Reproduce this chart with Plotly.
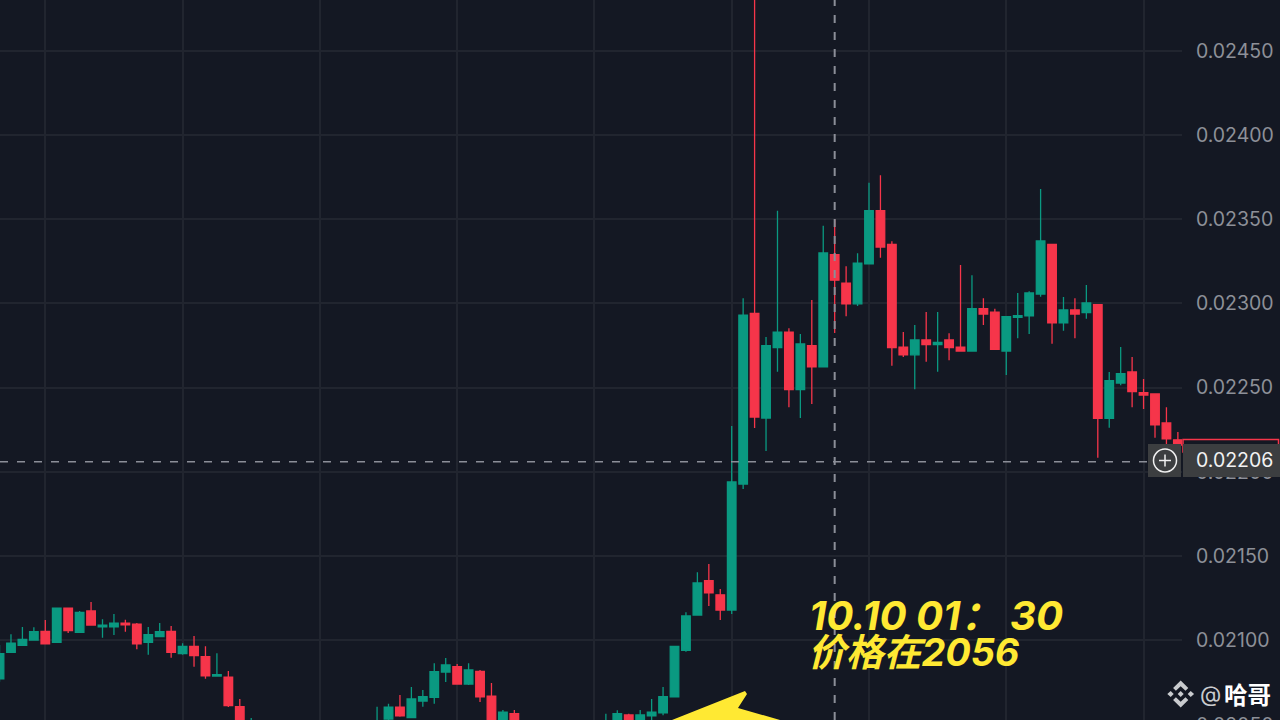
# Candlestick chart with crosshair, price tag and yellow note

import plotly.graph_objects as go

# Data

candle_index = list(range(0, 23)) + list(range(33, 46)) + list(range(53, 104))

opens = [0.020769, 0.020927, 0.020969, 0.021000, 0.021052, 0.020987, 0.021190, 0.021046, 0.021173, 0.021079,
         0.021079, 0.021101, 0.021094, 0.020987, 0.021020, 0.021052, 0.020919, 0.020963, 0.020901, 0.020786,
         0.020779, 0.020604, 0.020376,
         0.020376, 0.020531, 0.020602, 0.020539, 0.020638, 0.020660, 0.020810, 0.020842, 0.020739, 0.020814,
         0.020666, 0.020495, 0.020562,
         0.020466, 0.020495, 0.020555, 0.020513, 0.020549, 0.020568, 0.020662, 0.020939, 0.021149, 0.021353,
         0.021269, 0.021178, 0.021927, 0.022941, 0.022319, 0.022737, 0.022829, 0.022488, 0.022749, 0.022624,
         0.023290, 0.023120, 0.022998, 0.023236, 0.023551, 0.023351, 0.022741, 0.022695, 0.022783, 0.022755,
         0.022783, 0.022741, 0.022717, 0.022969, 0.022949, 0.022717, 0.022918, 0.022927, 0.023056, 0.023351,
         0.022884, 0.022961, 0.022945, 0.022993, 0.022318, 0.022527, 0.022593, 0.022470, 0.022462, 0.022290,
         0.022190]

closes = [0.020919, 0.020981, 0.021004, 0.021050, 0.020978, 0.021190, 0.021056, 0.021165, 0.021089, 0.021089,
          0.021101, 0.021091, 0.020978, 0.021032, 0.021050, 0.020927, 0.020963, 0.020907, 0.020788, 0.020794,
          0.020610, 0.020436, 0.020495,
          0.020501, 0.020602, 0.020549, 0.020650, 0.020663, 0.020812, 0.020852, 0.020739, 0.020822, 0.020662,
          0.020513, 0.020572, 0.020477,
          0.020507, 0.020562, 0.020495, 0.020555, 0.020572, 0.020663, 0.020963, 0.021143, 0.021339, 0.021281,
          0.021178, 0.021939, 0.022931, 0.022325, 0.022749, 0.022829, 0.022488, 0.022759, 0.022624, 0.023300,
          0.023138, 0.022998, 0.023239, 0.023551, 0.023335, 0.022737, 0.022695, 0.022783, 0.022755, 0.022769,
          0.022737, 0.022717, 0.022969, 0.022937, 0.022728, 0.022921, 0.022927, 0.023062, 0.023371, 0.022884,
          0.022961, 0.022937, 0.023003, 0.022318, 0.022541, 0.022583, 0.022476, 0.022456, 0.022278, 0.022196,
          0.022159]

highs = [0.020971, 0.021034, 0.021078, 0.021076, 0.021119, 0.021190, 0.021190, 0.021173, 0.021226, 0.021123,
         0.021155, 0.021121, 0.021101, 0.021078, 0.021101, 0.021083, 0.020981, 0.021024, 0.020963, 0.020921,
         0.020816, 0.020650, 0.020537,
         0.020604, 0.020622, 0.020673, 0.020721, 0.020703, 0.020862, 0.020893, 0.020858, 0.020862, 0.020822,
         0.020745, 0.020584, 0.020584,
         0.020562, 0.020583, 0.020562, 0.020584, 0.020650, 0.020721, 0.020963, 0.021165, 0.021403, 0.021452,
         0.021303, 0.022272, 0.023031, 0.024981, 0.022801, 0.023551, 0.022852, 0.022818, 0.023020, 0.023462,
         0.023500, 0.023221, 0.023298, 0.023717, 0.023761, 0.023369, 0.022830, 0.022872, 0.022949, 0.022949,
         0.022823, 0.023228, 0.023167, 0.023031, 0.022969, 0.022921, 0.023062, 0.023072, 0.023680, 0.023351,
         0.023038, 0.023031, 0.023110, 0.022993, 0.022593, 0.022741, 0.022682, 0.022551, 0.022462, 0.022383,
         0.022236]

lows = [0.020753, 0.020927, 0.020969, 0.021000, 0.020978, 0.020987, 0.021042, 0.021046, 0.021089, 0.021014,
        0.021030, 0.021050, 0.020945, 0.020913, 0.021020, 0.020895, 0.020913, 0.020842, 0.020770, 0.020782,
        0.020602, 0.020376, 0.020347,
        0.020347, 0.020513, 0.020545, 0.020535, 0.020604, 0.020622, 0.020751, 0.020739, 0.020733, 0.020632,
        0.020477, 0.020466, 0.020436,
        0.020436, 0.020466, 0.020477, 0.020477, 0.020513, 0.020553, 0.020662, 0.020931, 0.021145, 0.021202,
        0.021119, 0.021155, 0.021897, 0.022260, 0.022123, 0.022594, 0.022383, 0.022319, 0.022403, 0.022624,
        0.022824, 0.022924, 0.022985, 0.023236, 0.023272, 0.022630, 0.022682, 0.022490, 0.022654, 0.022594,
        0.022662, 0.022713, 0.022717, 0.022872, 0.022723, 0.022575, 0.022793, 0.022818, 0.023040, 0.022761,
        0.022838, 0.022793, 0.022909, 0.022083, 0.022262, 0.022514, 0.022383, 0.022373, 0.022202, 0.022159,
        0.022141]

price_ticks = [0.0210, 0.0215, 0.0220, 0.0225, 0.0230, 0.0235, 0.0240, 0.0245]
price_labels = ["0.02100", "0.02150", "0.02200", "0.02250", "0.02300", "0.02350", "0.02400", "0.02450"]
time_ticks = [4, 16, 28, 40, 52, 64, 76, 88, 100]

crosshair_index = 73
crosshair_price = 0.02206

# Colours

BACKGROUND = "#141823"
GRID = "#21252f"
GREEN = "#0a9981"
RED = "#f6354a"
YELLOW = "#ffe933"
TAG = "#3c3e40"
LABEL = "#8d9098"
CROSSHAIR = "#8b8e98"
LOGO = "#c9cbce"

FONT = "Inter, 'Noto Sans CJK SC', sans-serif"


# Pixel position on the page to paper coordinates
def px(x, y):
    return x / 1280, 1 - y / 720


def polygon(points):
    pairs = [px(x, y) for x, y in points]
    return "M " + " L ".join(f"{x:.5f},{y:.5f}" for x, y in pairs) + " Z"


def paper_shape(points, fill, line_color=None, line_width=0):
    return dict(type="path", xref="paper", yref="paper", path=polygon(points), fillcolor=fill,
                line=dict(color=line_color or fill, width=line_width), layer="above")


def note(text, x, y, color, size, weight=400, style="normal", anchor="left"):
    paper_x, paper_y = px(x, y)
    return dict(xref="paper", yref="paper", x=paper_x, y=paper_y, text=text, showarrow=False,
                xanchor=anchor, yanchor="middle", borderpad=0,
                font=dict(family=FONT, size=size, color=color, weight=weight, style=style))


fig = go.Figure()

fig.add_trace(go.Candlestick(
    x=candle_index, open=opens, high=highs, low=lows, close=closes,
    whiskerwidth=0,
    increasing=dict(line=dict(color=GREEN, width=1.3), fillcolor=GREEN),
    decreasing=dict(line=dict(color=RED, width=1.3), fillcolor=RED),
    showlegend=False, hoverinfo="skip",
))

shapes = []

# Crosshair
shapes.append(dict(type="line", xref="x", yref="paper", x0=crosshair_index, x1=crosshair_index, y0=0, y1=1,
                   line=dict(color=CROSSHAIR, width=2, dash="8px,9px"), layer="above"))
shapes.append(dict(type="line", xref="paper", yref="y", x0=0, x1=1148 / 1280,
                   y0=crosshair_price, y1=crosshair_price,
                   line=dict(color=CROSSHAIR, width=1.5, dash="8px,9px"), layer="above"))

# Red box sitting behind the price tag
shapes.append(paper_shape([(1183, 452), (1183, 439.5), (1278.5, 439.5), (1278.5, 452)], BACKGROUND, RED, 1.5))

# Price tag and plus button
shapes.append(paper_shape([(1183, 444), (1280, 444), (1280, 477), (1183, 477)], TAG))
shapes.append(paper_shape([(1148, 444), (1181, 444), (1181, 477), (1148, 477)], TAG))
x0, y0 = px(1153.5, 449)
x1, y1 = px(1176.5, 472)
shapes.append(dict(type="circle", xref="paper", yref="paper", x0=x0, x1=x1, y0=y0, y1=y1,
                   line=dict(color="#f0f0f0", width=1.5), layer="above"))
shapes.append(paper_shape([(1159, 460.5), (1171, 460.5)], "#f0f0f0", "#f0f0f0", 1.5))
shapes.append(paper_shape([(1165, 454.5), (1165, 466.5)], "#f0f0f0", "#f0f0f0", 1.5))

# Yellow arrow, runs off the bottom of the page
shapes.append(paper_shape([(672, 720), (745, 691), (747, 694), (738, 708), (780, 720)], YELLOW))

# Logo of the watermark
cx, cy = 1180.7, 694
logo_parts = [
    [(0, -13.6), (7.6, -6), (4.8, -3.2), (0, -7.8), (-4.8, -3.2), (-7.6, -6)],
    [(0, 13.6), (7.6, 6), (4.8, 3.2), (0, 7.8), (-4.8, 3.2), (-7.6, 6)],
    [(0, -3), (3, 0), (0, 3), (-3, 0)],
    [(-10, -3), (-13.4, 0), (-10, 3), (-7, 0)],
    [(10, -3), (13.4, 0), (10, 3), (7, 0)],
]
for part in logo_parts:
    shapes.append(paper_shape([(cx + a, cy + b) for a, b in part], LOGO))

annotations = [
    note("0.02050", 1195, 725, LABEL, 19.5),
    note("0.02206", 1195, 460.5, "#f2f2f2", 19.5),
    note("10.10 01： 30", 808, 615.5, YELLOW, 40.2, 700, "italic"),
    note("价格在2056", 807, 652, YELLOW, 37.8, 700, "italic"),
    note("@", 1198.5, 694, LOGO, 22),
    note("哈哥", 1223, 695, "#ffffff", 23.5, 700),
]

fig.update_layout(
    width=1280,
    height=720,
    margin=dict(l=0, r=0, t=0, b=0),
    paper_bgcolor=BACKGROUND,
    plot_bgcolor=BACKGROUND,
    showlegend=False,
    boxgap=0.25,
    boxgroupgap=0,
    shapes=shapes,
    annotations=annotations,
    xaxis=dict(
        domain=[0, 1182 / 1280], range=[0.04, 103.36],
        tickmode="array", tickvals=time_ticks, showticklabels=False, ticks="",
        showgrid=True, gridcolor=GRID, gridwidth=1.5, zeroline=False, showline=False,
        rangeslider=dict(visible=False), fixedrange=True,
    ),
    yaxis=dict(
        side="right", range=[0.020525, 0.024803],
        tickmode="array", tickvals=price_ticks, ticktext=price_labels,
        ticks="outside", ticklen=9, tickcolor="rgba(0,0,0,0)",
        tickfont=dict(family=FONT, size=19.5, color=LABEL),
        showgrid=True, gridcolor=GRID, gridwidth=1.5, zeroline=False, showline=False, fixedrange=True,
    ),
)

# The page has to start at the corner of the window, without the default body margin
fig.write_html("out.html", config={"displayModeBar": False},
               post_script="document.body.style.margin = '0'; document.body.style.overflow = 'hidden';")
